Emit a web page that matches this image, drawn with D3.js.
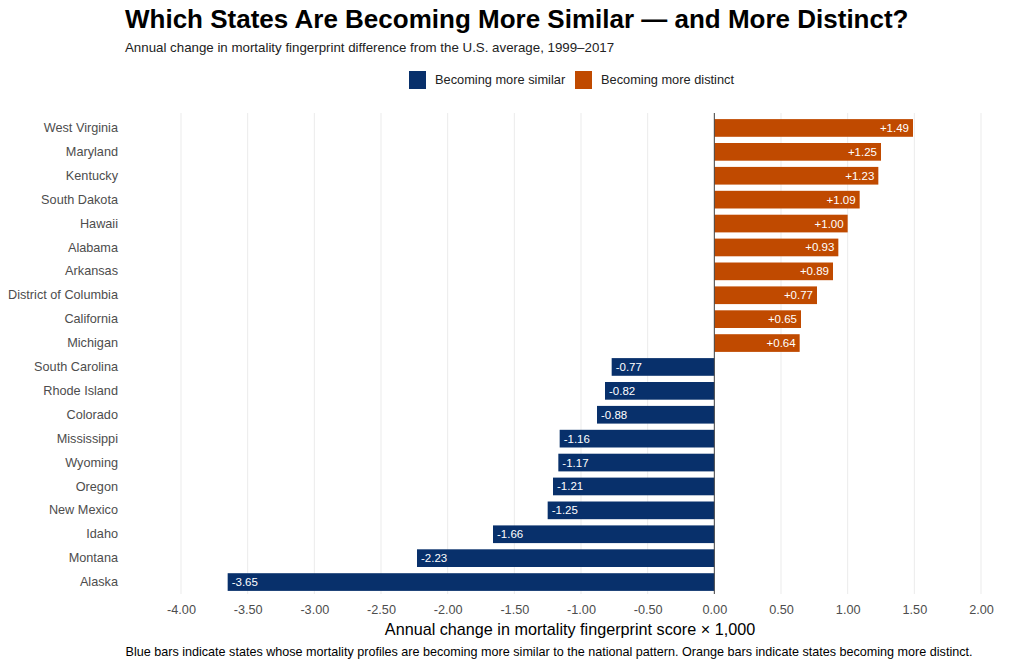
<!DOCTYPE html>
<html>
<head>
<meta charset="utf-8">
<script src="https://cdn.jsdelivr.net/npm/d3@7"></script>
<style>
  body { margin: 0; background: #fff; font-family: "Liberation Sans", Arial, sans-serif; }
  svg text { font-family: "Liberation Sans", Arial, sans-serif; }
</style>
</head>
<body>
<svg id="chart" width="1024" height="666"></svg>
<script>
// states, ordered top to bottom
const states = [
  "West Virginia", "Maryland", "Kentucky", "South Dakota", "Hawaii",
  "Alabama", "Arkansas", "District of Columbia", "California", "Michigan",
  "South Carolina", "Rhode Island", "Colorado", "Mississippi", "Wyoming",
  "Oregon", "New Mexico", "Idaho", "Montana", "Alaska"
];

// annual change in fingerprint score x 1,000
const changes = [
  1.49, 1.25, 1.23, 1.09, 1.00,
  0.93, 0.89, 0.77, 0.65, 0.64,
  -0.77, -0.82, -0.88, -1.16, -1.17,
  -1.21, -1.25, -1.66, -2.23, -3.65
];

const xTicks = [-4, -3.5, -3, -2.5, -2, -1.5, -1, -0.5, 0, 0.5, 1, 1.5, 2];

const legendLabels = ["Becoming more similar", "Becoming more distinct"];

const blue = "#08306b";
const orange = "#c04a00";

const svg = d3.select("#chart");

//Plot area
const plot = { left: 181, right: 981, top: 116, bottom: 594 };

const x = d3.scaleLinear().domain([-4, 2]).range([plot.left, plot.right]);

const y = d3.scaleBand()
  .domain(states)
  .range([plot.top, plot.bottom])
  .paddingInner(0.26)
  .paddingOuter(0.13);

// gridlines
svg.append("g")
  .selectAll("line")
  .data(xTicks)
  .join("line")
  .attr("x1", (d) => x(d))
  .attr("x2", (d) => x(d))
  .attr("y1", plot.top - 3)
  .attr("y2", plot.bottom)
  .attr("stroke", "#ebebeb")
  .attr("stroke-width", 1);

// bars
const rows = states.map((s, i) => ({ state: s, value: changes[i] }));

svg.append("g")
  .selectAll("rect")
  .data(rows)
  .join("rect")
  .attr("x", (d) => x(Math.min(0, d.value)))
  .attr("width", (d) => Math.abs(x(d.value) - x(0)))
  .attr("y", (d) => y(d.state))
  .attr("height", y.bandwidth())
  .attr("fill", (d) => (d.value > 0 ? orange : blue));

// value labels inside bar ends
svg.append("g")
  .selectAll("text")
  .data(rows)
  .join("text")
  .attr("x", (d) => (d.value > 0 ? x(d.value) - 4 : x(d.value) + 4))
  .attr("y", (d) => y(d.state) + y.bandwidth() / 2)
  .attr("dy", "0.35em")
  .attr("text-anchor", (d) => (d.value > 0 ? "end" : "start"))
  .attr("fill", "#fff")
  .attr("font-size", 11.5)
  .text((d) => (d.value > 0 ? "+" : "") + d.value.toFixed(2));

// zero line
svg.append("line")
  .attr("x1", x(0))
  .attr("x2", x(0))
  .attr("y1", plot.top - 3)
  .attr("y2", plot.bottom)
  .attr("stroke", "#444")
  .attr("stroke-width", 1);

// y axis labels
const yAxis = svg.append("g")
  .attr("transform", "translate(" + (plot.left - 63) + ",0)")
  .call(d3.axisLeft(y).tickSize(0).tickPadding(0));
yAxis.select(".domain").remove();
yAxis.selectAll("text").attr("font-size", 12.7).attr("fill", "#4d4d4d");

// x axis labels
const xAxis = svg.append("g")
  .attr("transform", "translate(0," + (plot.bottom + 8) + ")")
  .call(d3.axisBottom(x).tickValues(xTicks).tickSize(0)
    .tickFormat((d) => d3.format(".2f")(d).replace("−", "-")));
xAxis.select(".domain").remove();
xAxis.selectAll("text").attr("font-size", 12.7).attr("fill", "#4d4d4d");

// titles
svg.append("text")
  .attr("x", 125).attr("y", 28)
  .attr("font-size", 26).attr("font-weight", "bold").attr("fill", "#000")
  .text("Which States Are Becoming More Similar — and More Distinct?");

svg.append("text")
  .attr("x", 125).attr("y", 52)
  .attr("font-size", 13.3).attr("fill", "#222")
  .text("Annual change in mortality fingerprint difference from the U.S. average, 1999–2017");

svg.append("text")
  .attr("x", 570).attr("y", 635)
  .attr("text-anchor", "middle")
  .attr("font-size", 16.2).attr("fill", "#000")
  .text("Annual change in mortality fingerprint score × 1,000");

svg.append("text")
  .attr("x", 549).attr("y", 656)
  .attr("text-anchor", "middle")
  .attr("font-size", 12.6).attr("fill", "#000")
  .text("Blue bars indicate states whose mortality profiles are becoming more similar to the national pattern. Orange bars indicate states becoming more distinct.");

// legend
const legendX = [409, 575];
const legend = svg.append("g")
  .selectAll("g")
  .data(legendLabels)
  .join("g")
  .attr("transform", (d, i) => "translate(" + legendX[i] + ",71)");

legend.append("rect")
  .attr("width", 17).attr("height", 18)
  .attr("fill", (d, i) => (i === 0 ? blue : orange));

legend.append("text")
  .attr("x", 26).attr("y", 9).attr("dy", "0.35em")
  .attr("font-size", 12.8).attr("fill", "#222")
  .text((d) => d);
</script>
</body>
</html>
